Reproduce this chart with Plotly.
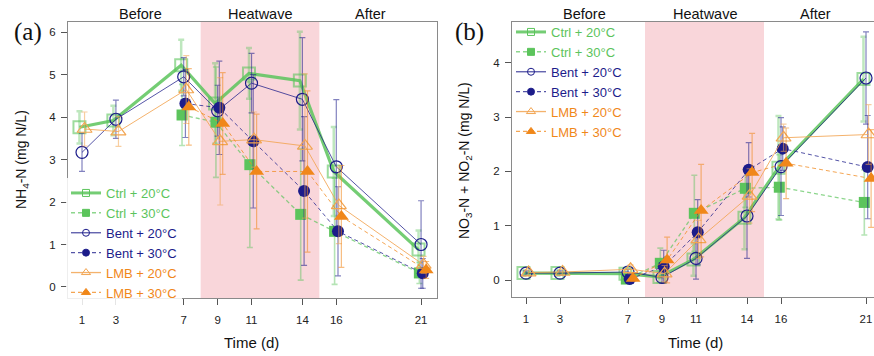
import plotly.graph_objects as go

# ---------------- data ----------------
days = [1, 3, 7, 9, 11, 14, 16, 21]
days30 = [7, 9, 11, 14, 16, 21]
xtick_labels = ["1", "3", "7", "9", "11", "14", "16", "21"]
series_names = ["Ctrl + 20°C", "Ctrl + 30°C", "Bent + 20°C", "Bent + 30°C", "LMB + 20°C", "LMB + 30°C"]
period_labels = ["Before", "Heatwave", "After"]
period_centers = [4.45, 11.5, 18.0]
heatwave_days = [8, 15]

# panel (a): NH4-N
nh4_ctrl20 = [3.76, 3.92, 5.22, 4.32, 5.03, 4.86, 2.72, 0.88]
nh4_ctrl20_sd = [0.38, 0.35, 0.6, 0.95, 0.6, 1.15, 1.05, 0.45]
nh4_ctrl30 = [4.05, 3.88, 2.88, 1.71, 1.31, 0.33]
nh4_ctrl30_sd = [0.72, 1.3, 1.95, 1.55, 1.25, 0.25]
nh4_bent20 = [3.17, 3.95, 4.95, 4.15, 4.80, 4.42, 2.83, 1.00]
nh4_bent20_sd = [0.45, 0.45, 0.45, 0.6, 0.7, 1.45, 1.58, 1.03]
nh4_bent30 = [4.32, 4.22, 3.43, 2.26, 1.31, 0.32]
nh4_bent30_sd = [0.8, 1.1, 1.57, 1.75, 1.05, 0.35]
nh4_lmb20 = [3.72, 3.66, 4.65, 3.43, 3.47, 3.32, 1.92, 0.52]
nh4_lmb20_sd = [0.4, 0.35, 0.8, 1.5, 0.65, 1.7, 0.9, 0.2]
nh4_lmb30 = [4.24, 3.85, 2.72, 2.72, 1.66, 0.40]
nh4_lmb30_sd = [0.9, 1.2, 1.35, 1.9, 1.2, 0.2]

# panel (b): NO3-N + NO2-N
no3_ctrl20 = [0.13, 0.13, 0.12, 0.06, 0.38, 1.15, 2.07, 3.70]
no3_ctrl20_sd = [0.05, 0.05, 0.06, 0.1, 0.3, 0.58, 0.95, 0.78]
no3_ctrl30 = [0.02, 0.31, 1.23, 1.69, 1.71, 1.43]
no3_ctrl30_sd = [0.05, 0.28, 0.7, 0.35, 0.6, 0.6]
no3_bent20 = [0.13, 0.13, 0.15, 0.05, 0.40, 1.18, 2.09, 3.72]
no3_bent20_sd = [0.04, 0.04, 0.05, 0.1, 0.38, 0.78, 0.9, 0.85]
no3_bent30 = [0.02, 0.25, 0.88, 2.03, 2.42, 2.08]
no3_bent30_sd = [0.04, 0.3, 0.6, 0.5, 0.4, 0.95]
no3_lmb20 = [0.14, 0.15, 0.20, 0.12, 0.75, 1.55, 2.62, 2.68]
no3_lmb20_sd = [0.05, 0.05, 0.08, 0.15, 0.35, 0.5, 0.25, 0.55]
no3_lmb30 = [0.03, 0.37, 1.28, 1.98, 2.15, 1.87]
no3_lmb30_sd = [0.05, 0.42, 0.85, 0.72, 0.65, 0.9]

# ---------------- styles ----------------
W, H = 874, 356
GREEN = "#5cc45c"
NAVY = "#1c1c8a"
ORANGE = "#f0871a"
ORANGE_L = "#f2a552"
DASH = "4px,3px"

def rgba(hexc, a):
    h = hexc.lstrip("#")
    return "rgba(%d,%d,%d,%.2f)" % (int(h[0:2], 16), int(h[2:4], 16), int(h[4:6], 16), a)

styles = [
    dict(color=GREEN, dash="solid", lw=3.2, sym="square-open", ms=12, mlw=2, ma=0.6, jit=-0.15, eb=2.5, ea=0.4, la=0.85, lgw=3, lgs=7),
    dict(color=GREEN, dash=DASH, lw=1.3, sym="square", ms=11, mlw=0, ma=1.0, jit=-0.1, eb=1.6, ea=0.45, la=0.7, lgw=1.5, lgs=7),
    dict(color=NAVY, dash="solid", lw=1.0, sym="circle-open", ms=12, mlw=1.2, ma=1.0, jit=0.0, eb=1.2, ea=0.55, la=0.75, lgw=1.3, lgs=7),
    dict(color=NAVY, dash=DASH, lw=1.0, sym="circle", ms=12, mlw=0, ma=1.0, jit=0.1, eb=1.2, ea=0.55, la=0.75, lgw=1.3, lgs=7),
    dict(color=ORANGE_L, dash="solid", lw=1.0, sym="triangle-up-open", ms=13, mlw=1.2, ma=1.0, jit=0.15, eb=1.2, ea=0.55, la=0.85, lgw=1.3, lgs=8),
    dict(color=ORANGE, dash=DASH, lw=1.0, sym="triangle-up", ms=13, mlw=0, ma=1.0, jit=0.3, eb=1.2, ea=0.55, la=0.75, lgw=1.3, lgs=8),
]

panel_a = [(days, nh4_ctrl20, nh4_ctrl20_sd), (days30, nh4_ctrl30, nh4_ctrl30_sd),
           (days, nh4_bent20, nh4_bent20_sd), (days30, nh4_bent30, nh4_bent30_sd),
           (days, nh4_lmb20, nh4_lmb20_sd), (days30, nh4_lmb30, nh4_lmb30_sd)]
panel_b = [(days, no3_ctrl20, no3_ctrl20_sd), (days30, no3_ctrl30, no3_ctrl30_sd),
           (days, no3_bent20, no3_bent20_sd), (days30, no3_bent30, no3_bent30_sd),
           (days, no3_lmb20, no3_lmb20_sd), (days30, no3_lmb30, no3_lmb30_sd)]

fig = go.Figure()
FONT = "Liberation Sans, Arial, sans-serif"

for panel, (xa, ya, leg) in zip([panel_a, panel_b], [("x", "y", "legend"), ("x2", "y2", "legend2")]):
    for name, st, (xd, yd, sd) in zip(series_names, styles, panel):
        fig.add_trace(go.Scatter(
            x=[d + st["jit"] for d in xd], y=yd,
            xaxis=xa, yaxis=ya, showlegend=False,
            mode="lines+markers", name=name,
            line=dict(color=rgba(st["color"], st["la"]), width=st["lw"], dash=st["dash"]),
            marker=dict(symbol=st["sym"], size=st["ms"], color=rgba(st["color"], st["ma"]),
                        line=dict(width=st["mlw"], color=rgba(st["color"], st["ma"]))),
            error_y=dict(type="data", array=sd, visible=True,
                         color=rgba(st["color"], st["ea"]), thickness=st["eb"], width=3),
        ))
    # legend entries (small symbols, as in the reference key)
    for name, st in zip(series_names, styles):
        txtcol = ORANGE if st["color"] in (ORANGE, ORANGE_L) else st["color"]
        fig.add_trace(go.Scatter(
            x=[None], y=[None], xaxis=xa, yaxis=ya, legend=leg, showlegend=True,
            mode="lines+markers",
            name="<span style='color:%s'>%s</span>" % (txtcol, name),
            line=dict(color=rgba(st["color"], st["la"]), width=st["lgw"], dash=st["dash"]),
            marker=dict(symbol=st["sym"], size=st["lgs"], color=st["color"],
                        line=dict(width=1, color=st["color"])),
        ))

# heatwave shading
for xr, yr in [("x", "y domain"), ("x2", "y2 domain")]:
    fig.add_shape(type="rect", xref=xr, yref=yr, x0=heatwave_days[0], x1=heatwave_days[1], y0=0, y1=1,
                  fillcolor="#f9d6da", line=dict(width=0), layer="below")

def note(x, y, text, size, xref="paper", family=FONT, angle=0):
    fig.add_annotation(x=x, y=y, xref=xref, yref="paper", text=text, showarrow=False,
                       xanchor="center", yanchor="middle", textangle=angle,
                       font=dict(family=family, size=size, color="#111"))

# period labels
for xr in ["x", "x2"]:
    for lab, c in zip(period_labels, period_centers):
        note(c, 1 - 14 / H, lab, 14.5, xref=xr)

# panel letters
SERIF = "Liberation Serif, Times New Roman, serif"
note(28 / W, 1 - 32 / H, "(a)", 25, family=SERIF)
note(469 / W, 1 - 32 / H, "(b)", 25, family=SERIF)

# axis titles
note(22 / W, 1 - 160 / H, "NH<sub>4</sub>-N (mg N/L)", 14, angle=-90)
note(465 / W, 1 - 161 / H, "NO<sub>3</sub>-N + NO<sub>2</sub>-N (mg N/L)", 14, angle=-90)
note(251 / W, 1 - 342 / H, "Time (d)", 15)
note(695 / W, 1 - 342 / H, "Time (d)", 15)

AX = dict(showgrid=False, zeroline=False, showline=True, linecolor="#8a8a8a", linewidth=1.2,
          ticks="outside", ticklen=6, tickcolor="#555", tickwidth=1,
          tickfont=dict(family=FONT, size=11.5, color="#222"))

fig.update_layout(
    width=W, height=H, margin=dict(l=0, r=0, t=0, b=0),
    paper_bgcolor="white", plot_bgcolor="white",
    xaxis=dict(domain=[68 / W, 437 / W], range=[0.174, 21.94], anchor="y", mirror=True,
               tickvals=days, ticktext=xtick_labels, ticklabelstandoff=5, **AX),
    yaxis=dict(domain=[1 - 298 / H, 1 - 22 / H], range=[-0.26, 6.24], anchor="x", mirror=True,
               tickvals=[0, 1, 2, 3, 4, 5, 6], ticklabelstandoff=3, **AX),
    xaxis2=dict(domain=[512 / W, 1.0], range=[0.176, 21.47], anchor="y2", mirror=True,
                tickvals=days, ticktext=xtick_labels, ticklabelstandoff=5, **AX),
    yaxis2=dict(domain=[1 - 297 / H, 1 - 22 / H], range=[-0.31, 4.75], anchor="x2", mirror=False,
                tickvals=[0, 1, 2, 3, 4], ticklabelstandoff=3, **AX),
    legend=dict(x=66 / W, y=1 - 178 / H, xanchor="left", yanchor="top", bgcolor="rgba(255,255,255,0.85)",
                font=dict(family=FONT, size=13), tracegroupgap=0, itemwidth=30),
    legend2=dict(x=511 / W, y=1 - 17 / H, xanchor="left", yanchor="top", bgcolor="rgba(255,255,255,0)",
                 font=dict(family=FONT, size=13), tracegroupgap=0, itemwidth=30),
)

fig.write_html("out.html")
